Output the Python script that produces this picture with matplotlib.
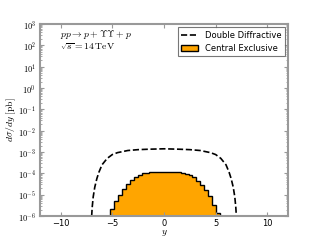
import numpy as np
import matplotlib
matplotlib.use("Agg")
import matplotlib.pyplot as plt

# Double diffractive curve (rapidity, log10 of dsigma/dy)
dd_y = [-7.0, -6.95, -6.85, -6.7, -6.5, -6.3, -6.0, -5.5, -5.0, -4.5, -3.5, -2.5, -1.5, 0.0,
        1.5, 2.5, 3.5, 4.5, 5.0, 5.5, 6.0, 6.3, 6.5, 6.7, 6.85, 6.95, 7.0]
dd_log = [-6.0, -5.6, -5.1, -4.65, -4.25, -3.95, -3.6, -3.3, -3.12, -3.03, -2.93, -2.89, -2.87, -2.85,
          -2.87, -2.89, -2.93, -3.03, -3.12, -3.3, -3.6, -3.95, -4.25, -4.65, -5.1, -5.6, -6.0]

# Central exclusive histogram (bin edges, log10 of bin heights)
ce_edges = np.linspace(-5.2, 5.4, 29)
ce_log = [-5.66, -5.28, -5.00, -4.72, -4.50, -4.31, -4.19, -4.07, -4.00, -3.97,
          -3.95, -3.93, -3.92, -3.92, -3.92, -3.92, -3.93, -3.95, -3.98, -4.02,
          -4.07, -4.17, -4.35, -4.53, -4.77, -5.08, -5.47, -5.86]

x_ticks = [-10, -5, 0, 5, 10]
y_exps = list(range(-6, 4))

plt.rcParams['mathtext.fontset'] = 'cm'
plt.rcParams['font.family'] = 'DejaVu Sans'
plt.rcParams['axes.unicode_minus'] = True

fig = plt.figure(figsize=(3.2, 2.4), dpi=100)
ax = fig.add_axes([0.125, 0.1, 0.775, 0.8])

dd_vals = 10.0 ** np.array(dd_log)
ax.plot(dd_y, dd_vals, color='black', linestyle='--', linewidth=1.2, label='Double Diffractive')

ce_vals = 10.0 ** np.array(ce_log)
centers = 0.5 * (ce_edges[:-1] + ce_edges[1:])
ax.hist(centers, bins=ce_edges, weights=ce_vals, histtype='stepfilled',
        facecolor='#FFA500', edgecolor='black', linewidth=1.0, label='Central Exclusive')

ax.set_yscale('log')
ax.set_xlim(-12, 12)
ax.set_ylim(1e-6, 1e3)
ax.set_yticks([10.0 ** k for k in y_exps])
ax.set_yticklabels([r'$10^{%d}$' % k for k in y_exps])
ax.set_xticks(x_ticks)
ax.set_xticklabels([str(t).replace('-', '\u2212') for t in x_ticks])

for s in ax.spines.values():
    s.set_color('#999999')
    s.set_linewidth(1.5)
ax.tick_params(which='both', direction='in', top=True, right=True, color='#999999',
               labelsize=6)
ax.tick_params(axis='x', pad=2)
ax.tick_params(axis='y', pad=3)
ax.tick_params(which='major', length=3, width=0.8)
ax.tick_params(which='minor', length=1.5, width=0.6)
ax.xaxis.set_minor_locator(matplotlib.ticker.NullLocator())

ax.set_xlabel(r'$y$', fontsize=7, labelpad=0)
ax.set_ylabel(r'$d\sigma/dy\;[\mathrm{pb}]$', fontsize=7)
ax.yaxis.set_label_coords(-0.09, 0.5)

ax.text(0.08, 0.945, r'$pp \rightarrow p + \Upsilon\Upsilon + p$', transform=ax.transAxes,
        fontsize=7, va='center', ha='left')
ax.text(0.08, 0.883, r'$\sqrt{s} = 14\,\mathrm{TeV}$', transform=ax.transAxes,
        fontsize=7, va='center', ha='left')

leg = ax.legend(loc='upper right', fontsize=6, fancybox=False, edgecolor='#555555',
                handlelength=2.0, borderpad=0.4, labelspacing=0.5, handletextpad=0.8,
                borderaxespad=0.4)
leg.get_frame().set_linewidth(0.8)

fig.savefig('out.png', dpi=100, facecolor='white')
